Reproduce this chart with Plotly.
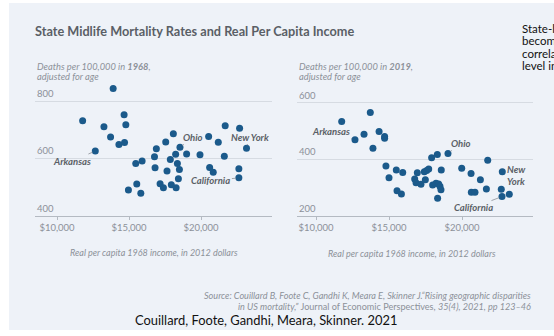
import plotly.graph_objects as go

W, H = 554, 336

# ---------------- data ----------------
inc_1968 = [13900, 11780, 14660, 13260, 14780, 13720, 14300, 14690, 12660, 18080,
            17550, 16900, 18540, 18240, 19000, 17870, 16770, 15910, 15470, 16810,
            18360, 18500, 17640, 19930, 20530, 21200, 21680, 22680, 23160, 21620,
            20600, 20850, 22630, 22630, 18430, 17160, 17390, 17940, 18270, 15540,
            14960, 15820]
mort_1968 = [845, 732, 753, 711, 718, 675, 649, 656, 626, 687,
             658, 634, 639, 615, 616, 596, 606, 591, 582, 567,
             582, 561, 556, 613, 677, 657, 715, 706, 636, 608,
             568, 552, 564, 532, 529, 511, 497, 508, 497, 510,
             489, 478]

inc_2019 = [11760, 13720, 12670, 13290, 14320, 14700, 14700, 13900, 14790, 15000,
            15500, 15940, 15550, 15850, 16940, 16760, 16850, 17190, 17490, 17420,
            17580, 17720, 17920, 18310, 19040, 18580, 17990, 18220, 18400, 18490,
            18560, 18330, 19980, 20620, 21260, 21760, 20640, 20890, 21670, 22760,
            22690, 22740, 23240]
mort_2019 = [533, 565, 468, 488, 498, 480, 474, 438, 375, 334,
             361, 352, 288, 276, 351, 329, 316, 311, 327, 355,
             359, 365, 405, 416, 420, 361, 308, 314, 312, 304,
             291, 261, 367, 349, 327, 396, 282, 282, 294, 355,
             293, 267, 275]

# labelled states: (name, income, mortality)
labels_1968 = [("Arkansas", 12660, 626), ("Ohio", 18540, 639),
               ("New York", 23160, 636), ("California", 22630, 532)]
labels_2019 = [("Arkansas", 12670, 468), ("Ohio", 19040, 420),
               ("New<br>York", 22760, 355), ("California", 22740, 267)]

x_tickvals = [10000, 15000, 20000]
x_ticktext = ["$10,000", "$15,000", "$20,000"]
y_ticks_1968 = [400, 600, 800]
y_ticks_2019 = [200, 400, 600]

# ---------------- styling ----------------
PANEL = "#eef2f8"
DOT = "#1b5a8b"
GRID = "#d6dbe2"
AXIS = "#b4bac2"
GREY = "#8c9198"
DARK = "#5a5f66"
FONT = "Lato"


def px(x):
    return x / W


def py(y):
    return 1 - y / H


fig = go.Figure()
fig.add_trace(go.Scatter(x=inc_1968, y=mort_1968, mode="markers", xaxis="x", yaxis="y",
                         marker=dict(color=DOT, size=7), cliponaxis=False, hoverinfo="skip"))
fig.add_trace(go.Scatter(x=inc_2019, y=mort_2019, mode="markers", xaxis="x2", yaxis="y2",
                         marker=dict(color=DOT, size=7), cliponaxis=False, hoverinfo="skip"))

yd = [py(215.5), py(80)]
xaxis_common = dict(tickvals=x_tickvals, ticktext=x_ticktext, showgrid=False, zeroline=False,
                    showline=True, linecolor=AXIS, linewidth=1, ticks="outside", ticklen=3,
                    tickcolor=AXIS, tickfont=dict(family=FONT, size=9.5, color=GREY))
yaxis_common = dict(showgrid=True, gridcolor=GRID, gridwidth=1, zeroline=False, showline=False,
                    ticks="", showticklabels=False)

fig.update_layout(
    width=W, height=H, margin=dict(l=0, r=0, t=0, b=0),
    paper_bgcolor="white", plot_bgcolor="rgba(0,0,0,0)", showlegend=False,
    xaxis=dict(domain=[px(35), px(272)], range=[8472, 24931], anchor="y", **xaxis_common),
    yaxis=dict(domain=yd, range=[400, 875], anchor="x", tickvals=y_ticks_1968, **yaxis_common),
    xaxis2=dict(domain=[px(297), px(533)], range=[8699, 24863], anchor="y2", **xaxis_common),
    yaxis2=dict(domain=yd, range=[200, 680], anchor="x2", tickvals=y_ticks_2019, **yaxis_common),
    shapes=[dict(type="rect", xref="paper", yref="paper", x0=px(9), x1=1.0,
                 y0=py(330), y1=py(3), fillcolor=PANEL, line=dict(width=0), layer="below")],
)

ann = []


def text(x, y, s, size, color, xanchor="left", family=FONT):
    ann.append(dict(x=px(x), y=py(y), xref="paper", yref="paper", text=s, showarrow=False,
                    xanchor=xanchor, yanchor="middle", align=xanchor if xanchor != "center" else "center",
                    font=dict(family=family, size=size, color=color)))


# y tick labels sitting above gridlines at the left edge of each panel
for v in y_ticks_1968:
    ann.append(dict(x=px(35), y=v, xref="paper", yref="y", text=str(v), showarrow=False,
                    xanchor="left", yanchor="bottom", yshift=0,
                    font=dict(family=FONT, size=9.5, color=GREY)))
for v in y_ticks_2019:
    ann.append(dict(x=px(297), y=v, xref="paper", yref="y2", text=str(v), showarrow=False,
                    xanchor="left", yanchor="bottom", yshift=0,
                    font=dict(family=FONT, size=9.5, color=GREY)))

text(33, 31, "<b>State Midlife Mortality Rates and Real Per Capita Income</b>", 12.7, DARK)
# y-axis titles
text(35, 67, "<i>Deaths per 100,000 in <b>1968</b>,</i>", 9.3, GREY)
text(35, 77, "<i>adjusted for age</i>", 9.3, GREY)
text(297, 67, "<i>Deaths per 100,000 in <b>2019</b>,</i>", 9.3, GREY)
text(297, 77, "<i>adjusted for age</i>", 9.3, GREY)
# x-axis titles
text(154, 252, "<i>Real per capita 1968 income, in 2012 dollars</i>", 9, GREY, "center")
text(412, 253, "<i>Real per capita 1968 income, in 2012 dollars</i>", 9, GREY, "center")
# source
text(533, 295.5, "<i>Source: Couillard B, Foote C, Gandhi K, Meara E, Skinner J.\u201cRising geographic disparities</i>",
     9.1, GREY, "right")
text(533, 306.5, "<i>in US mortality,\u201d</i> Journal of Economic Perspectives, <i>35(4), 2021, pp 123\u201346</i>",
     9.1, GREY, "right")
# footer
text(133, 320, "Couillard, Foote, Gandhi, Meara, Skinner. 2021", 12.9, "#111111")
# side slide text (cut off by the window edge, as in the reference)
for yy, s in [(28, "State-level"), (40.5, "become"),
              (53, "correlated"), (65.5, "level income")]:
    text(520, yy, s, 11.5, "#111111")

# state labels with leader lines
offs_1968 = [(-23, 10), (13, -10), (3, -11), (-28, 3)]
offs_2019 = [(-24, -8), (13, -10), (14, 4), (-29, 11)]
for (name, xv, yv), (ax, ay) in zip(labels_1968, offs_1968):
    ann.append(dict(x=xv, y=yv, xref="x", yref="y", text=f"<b><i>{name}</i></b>",
                    showarrow=True, arrowhead=0, arrowwidth=0.8, arrowcolor="#8a8f96",
                    ax=ax, ay=ay, standoff=3, font=dict(family=FONT, size=9.5, color=DARK)))
for (name, xv, yv), (ax, ay) in zip(labels_2019, offs_2019):
    ann.append(dict(x=xv, y=yv, xref="x2", yref="y2", text=f"<b><i>{name}</i></b>",
                    showarrow=True, arrowhead=0, arrowwidth=0.8, arrowcolor="#8a8f96",
                    ax=ax, ay=ay, standoff=3, align="left",
                    font=dict(family=FONT, size=9.5, color=DARK)))

fig.update_layout(annotations=ann)
fig.write_html("out.html")
